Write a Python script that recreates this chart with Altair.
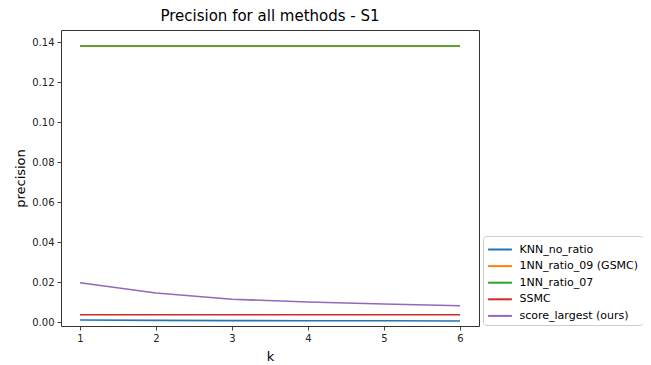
import altair as alt
import pandas as pd

k_values = [1, 2, 3, 4, 5, 6]
methods = ["KNN_no_ratio", "1NN_ratio_09 (GSMC)", "1NN_ratio_07", "SSMC", "score_largest (ours)"]
colors = ["#1f77b4", "#ff7f0e", "#2ca02c", "#d62728", "#9467bd"]

knn_no_ratio = [0.0010, 0.0008, 0.0007, 0.0006, 0.0006, 0.0005]
nn_ratio_09 = [0.1380, 0.1380, 0.1380, 0.1380, 0.1380, 0.1380]
nn_ratio_07 = [0.1380, 0.1380, 0.1380, 0.1380, 0.1380, 0.1380]
ssmc = [0.0036, 0.0036, 0.0036, 0.0036, 0.0036, 0.0036]
score_largest = [0.0196, 0.0145, 0.0114, 0.0100, 0.0090, 0.0081]

series = [knn_no_ratio, nn_ratio_09, nn_ratio_07, ssmc, score_largest]
rows = []
for i, (m, vals) in enumerate(zip(methods, series)):
    for kk, v in zip(k_values, vals):
        rows.append({"k": kk, "precision": v, "method": m, "order": i})
df = pd.DataFrame(rows)

FONT = "DejaVu Sans"

chart = alt.Chart(df).mark_line(strokeWidth=1.6).encode(
    x=alt.X("k:Q", scale=alt.Scale(domain=[0.75, 6.25], nice=False, zero=False),
            axis=alt.Axis(values=k_values, format="d", title="k", grid=False,
                          tickSize=4, labelPadding=3, titlePadding=7,
                          labelFontSize=10, titleFontSize=13, titleFontWeight="normal",
                          labelColor="#222", titleColor="#000",
                          domain=False, tickColor="#444")),
    y=alt.Y("precision:Q", scale=alt.Scale(domain=[-0.002, 0.146], nice=False, zero=False),
            axis=alt.Axis(values=[0, 0.02, 0.04, 0.06, 0.08, 0.10, 0.12, 0.14], format=".2f",
                          title="precision", grid=False, tickSize=4, labelPadding=3,
                          titlePadding=4, labelFontSize=10, titleFontSize=13,
                          titleFontWeight="normal", labelColor="#222", titleColor="#000",
                          domain=False, tickColor="#444")),
    color=alt.Color("method:N", sort=methods,
                    scale=alt.Scale(domain=methods, range=colors),
                    legend=alt.Legend(title=None, orient="none", legendX=422, legendY=206,
                                      symbolType="M-1.4,0L1.4,0", symbolSize=289,
                                      symbolStrokeWidth=2, symbolOffset=3.5,
                                      labelFontSize=11, labelColor="#000",
                                      padding=4, rowPadding=1.6, cornerRadius=3,
                                      strokeColor="#ccc", fillColor="white",
                                      labelOffset=10)),
    order=alt.Order("order:Q"),
    detail="method:N",
).properties(
    width=418, height=296,
    title=alt.TitleParams("Precision for all methods - S1", fontSize=15, fontWeight="normal",
                          font=FONT, color="#000", offset=6),
    autosize=alt.AutoSizeParams(type="none"),
    padding={"left": 53, "top": 22, "right": 164, "bottom": 38},
).configure(font=FONT).configure_view(stroke="#333", strokeWidth=1)

chart.save("out.html", embed_options={"renderer": "svg", "actions": False})
